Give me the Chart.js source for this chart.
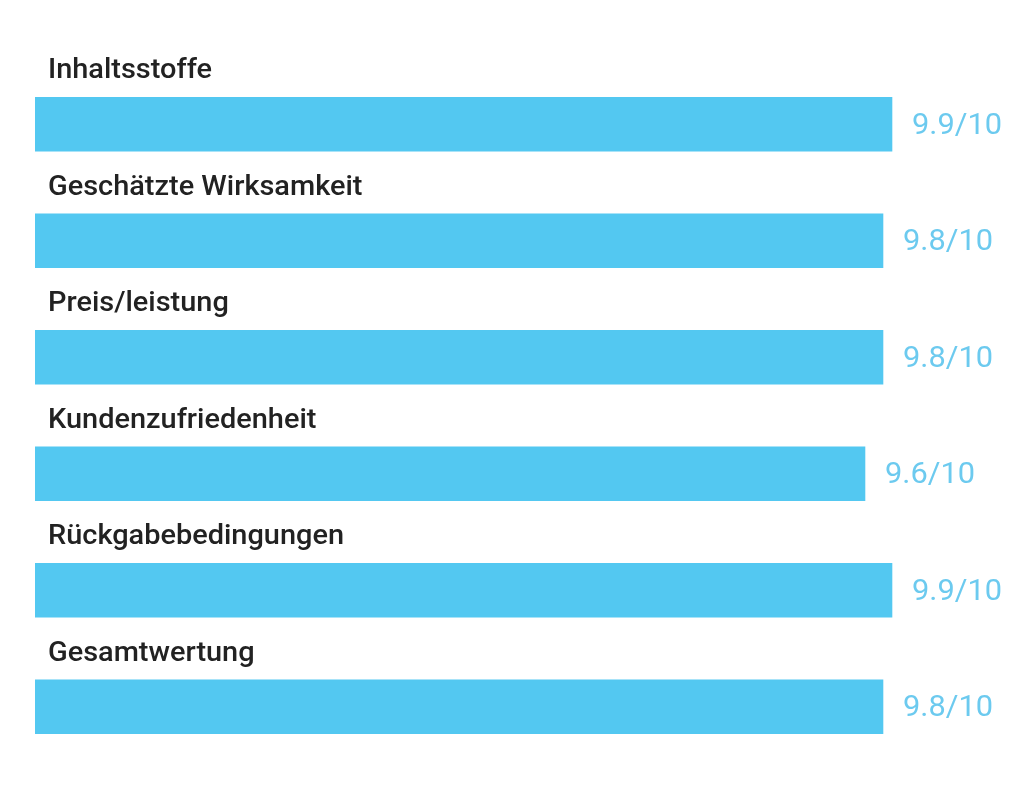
<!DOCTYPE html>
<html>
<head>
<meta charset="utf-8">
<script src="https://cdn.jsdelivr.net/npm/chart.js@4/dist/chart.umd.min.js"></script>
<style>
html,body{margin:0;padding:0;background:#fff;}
#wrap{width:1024px;height:787px;position:relative;}
</style>
</head>
<body>
<div id="wrap"><canvas id="c" width="1024" height="787"></canvas></div>
<script>
const categories = ["Inhaltsstoffe","Geschätzte Wirksamkeit","Preis/leistung","Kundenzufriedenheit","Rückgabebedingungen","Gesamtwertung"];
const scores = [9.9, 9.8, 9.8, 9.6, 9.9, 9.8];
const scoreMax = 10;

const labelPlugin = {
  id: 'labelPlugin',
  afterDatasetsDraw(chart) {
    const ctx = chart.ctx;
    const meta = chart.getDatasetMeta(0);
    ctx.save();
    ctx.font = '500 27px Roboto';
    const refW = ctx.measureText(categories[0]).width;
    const sx = 164 / refW;
    ctx.fillStyle = '#222222';
    ctx.textBaseline = 'alphabetic';
    ctx.textAlign = 'left';
    meta.data.forEach((bar, i) => {
      const top = bar.y - bar.height / 2;
      ctx.save();
      ctx.translate(48, top - 19);
      ctx.scale(sx, 1);
      ctx.fillText(categories[i], 0, 0);
      ctx.restore();
    });
    ctx.font = '400 29px Roboto';
    const vW = ctx.measureText('9.9/10').width;
    const vx = 90 / vW;
    ctx.fillStyle = '#6ccaef';
    ctx.textBaseline = 'middle';
    meta.data.forEach((bar, i) => {
      ctx.save();
      ctx.translate(bar.x + 20, bar.y + 2);
      ctx.scale(vx, 1);
      ctx.fillText(scores[i].toFixed(1) + '/' + scoreMax, 0, 0);
      ctx.restore();
    });
    ctx.restore();
  }
};

new Chart(document.getElementById('c'), {
  type: 'bar',
  data: {
    labels: categories,
    datasets: [{
      data: scores,
      backgroundColor: '#53c8f1',
      borderWidth: 0,
      barThickness: 54,
      clip: 0
    }]
  },
  options: {
    indexAxis: 'y',
    responsive: false,
    animation: false,
    layout: { padding: { left: 35, right: 33, top: 66, bottom: 22 } },
    plugins: { legend: { display: false }, tooltip: { enabled: false } },
    scales: {
      x: { display: false, min: 0.38, max: 11, grid: { display: false } },
      y: { display: false, grid: { display: false } }
    }
  },
  plugins: [labelPlugin]
});
</script>
</body>
</html>
